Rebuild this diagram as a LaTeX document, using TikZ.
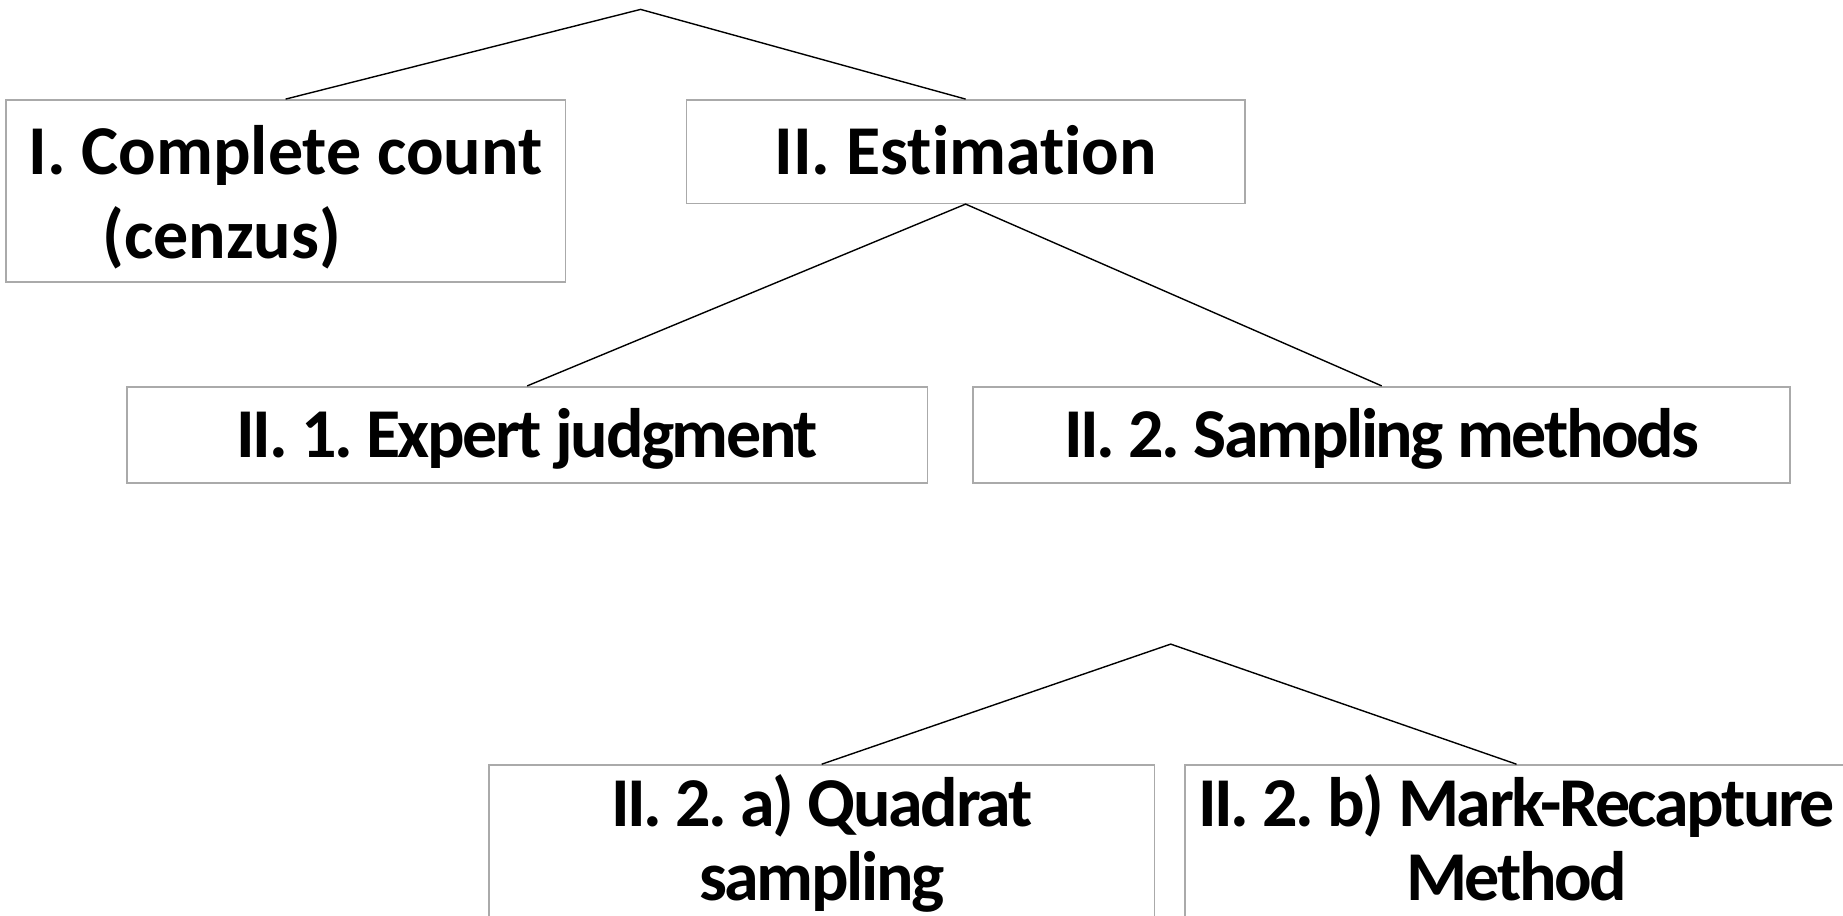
\documentclass[tikz,border=0pt]{standalone}
\usepackage{fontspec}
\setmainfont[Ligatures=NoCommon]{Carlito}
\newfontfamily\tightfont[Ligatures=NoCommon,LetterSpace=-3.5]{Carlito}
\usetikzlibrary{positioning}
\definecolor{boxgray}{RGB}{170,170,170}
\frenchspacing
\tikzset{
  box/.style  ={draw=boxgray, line width=0.8pt, inner sep=0pt, align=center,
                font=\fontsize{35}{42}\selectfont\bfseries},
  tight/.style={font=\fontsize{35}{37}\selectfont\tightfont\bfseries},
  oneline/.style={text height=22.5pt, text depth=0pt},
  link/.style ={draw, line width=0.7pt}
}

\begin{document}
\begin{tikzpicture}[x=0.5pt,y=-0.5pt]
  \useasboundingbox (0,0) rectangle (1843,916);
  \clip (0,0) rectangle (1843,916);

  \coordinate (top) at (640.6,9.4);
  \node[box,align=left,text height=67.5pt,text depth=0pt,
        minimum width=279.75pt,minimum height=90.9pt] (census) at (285.6,190.8)
    {I. Complete count\\\hspace*{37pt}(cenzus)};
  \node[box,oneline,minimum width=279.2pt,minimum height=51.7pt] (estim) at (965.6,151.6) {II. Estimation};
  \node[box,tight,oneline,minimum width=400.25pt,minimum height=48.2pt] (expert) at (527.2,434.9) {II. 1. Expert judgment};
  \node[box,tight,oneline,minimum width=408.45pt,minimum height=48.2pt] (sampling) at (1381.7,434.9) {II. 2. Sampling methods};

  \coordinate (split) at (1170.7,644.1);
  \node[box,tight,text height=47.5pt,text depth=0pt,
        minimum width=332.7pt,minimum height=87.5pt] (quadrat) at (821.7,852.5) {II. 2. a) Quadrat\\sampling};
  \node[box,tight,text height=47.5pt,text depth=0pt,
        minimum width=331.5pt,minimum height=87.5pt] (recap) at (1516.5,852.5) {II. 2. b) Mark-Recapture\\Method};

  \begin{scope}[every path/.style=link]
    \path (census.north) -- (top) -- (estim.north);
    \path (expert.north) -- (estim.south) -- (sampling.north);
    \path (quadrat.north) -- (split) -- (recap.north);
  \end{scope}

\end{tikzpicture}
\end{document}
